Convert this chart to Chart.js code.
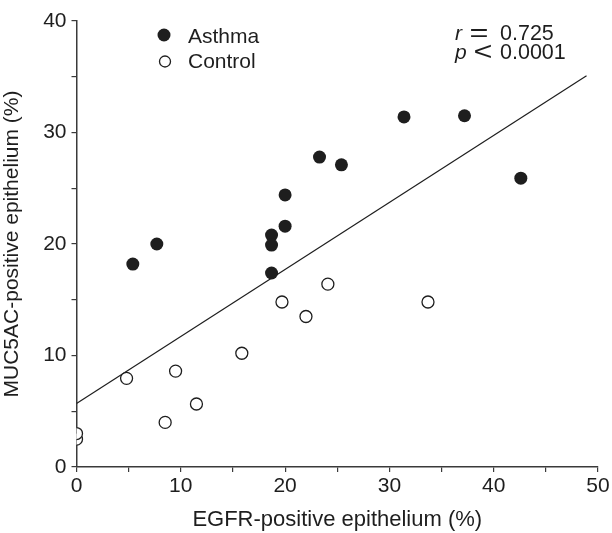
<!DOCTYPE html>
<html><head><meta charset="utf-8">
<script src="https://cdn.jsdelivr.net/npm/chart.js@4.4.0/dist/chart.umd.min.js"></script>
<style>html,body{margin:0;padding:0;background:#fff}#wrap{width:612px;height:533px}</style>
</head><body><div id="wrap"><canvas id="c" width="612" height="533"></canvas></div>
<script>
const asthmaX = [5.4, 7.7, 18.7, 18.7, 18.7, 20.0, 20.0, 23.3, 25.4, 31.4, 37.2, 42.6];
const asthmaY = [18.2, 20.0, 20.8, 19.9, 17.4, 24.4, 21.6, 27.8, 27.1, 31.4, 31.5, 25.9];
const controlX = [0, 0, 4.8, 8.5, 9.5, 11.5, 15.85, 19.7, 22.0, 24.1, 33.7];
const controlY = [2.5, 3.0, 7.95, 4.0, 8.6, 5.65, 10.2, 14.8, 13.5, 16.4, 14.8];
const fitX = [0, 48.9];
const fitY = [5.7, 35.1];
const xTickLabels = ['0', '10', '20', '30', '40', '50'];
const yTickLabels = ['0', '10', '20', '30', '40'];
const seriesNames = ['Asthma', 'Control'];
const statVars = ['r', 'p'];
const statOps = ['=', '<'];
const statVals = ['0.725', '0.0001'];

const FONT = "'Liberation Sans', Arial, Helvetica, sans-serif";
const INK = '#1e1e1e';
const AXIS = '#3a3a3a';

const toPts = (xs, ys) => xs.map((x, i) => ({x: x, y: ys[i]}));

const overlay = {
  id: 'overlay',
  afterDraw(chart) {
    const ctx = chart.ctx;
    ctx.save();
    // legend
    ctx.fillStyle = INK;
    ctx.beginPath(); ctx.arc(164, 35, 6.5, 0, Math.PI * 2); ctx.fill();
    ctx.fillStyle = '#fff'; ctx.strokeStyle = INK; ctx.lineWidth = 1.3;
    ctx.beginPath(); ctx.arc(165, 61.5, 5.5, 0, Math.PI * 2); ctx.fill(); ctx.stroke();
    ctx.fillStyle = INK;
    ctx.font = '21px ' + FONT;
    ctx.textBaseline = 'alphabetic';
    ctx.textAlign = 'left';
    ctx.fillText(seriesNames[0], 188, 43);
    ctx.fillText(seriesNames[1], 188, 68);
    // stats
    const drawStat = (i, y) => {
      ctx.font = 'italic 21px ' + FONT;
      ctx.fillText(statVars[i], 455, y);
      ctx.save();
      ctx.translate(i === 0 ? 479 : 483, y + 1);
      ctx.scale(1.3, 1);
      ctx.font = '25px ' + FONT;
      ctx.textAlign = 'center';
      ctx.fillText(statOps[i], 0, 0);
      ctx.restore();
      ctx.font = '21.5px ' + FONT;
      ctx.fillText(statVals[i], 500, y);
    };
    drawStat(0, 40);
    drawStat(1, 59);
    ctx.restore();
  }
};

new Chart(document.getElementById('c'), {
  type: 'scatter',
  data: {
    datasets: [
      {
        label: 'fit', type: 'line', data: toPts(fitX, fitY),
        borderColor: INK, borderWidth: 1.2, pointRadius: 0, fill: false, order: 3
      },
      {
        label: seriesNames[1], data: toPts(controlX, controlY),
        pointRadius: 6, pointBackgroundColor: '#fff', pointBorderColor: INK,
        pointBorderWidth: 1.3, order: 2
      },
      {
        label: seriesNames[0], data: toPts(asthmaX, asthmaY),
        pointRadius: 6.5, pointBackgroundColor: INK, pointBorderColor: INK,
        pointBorderWidth: 0, order: 1
      }
    ]
  },
  options: {
    responsive: false,
    devicePixelRatio: 1,
    animation: false,
    layout: {padding: {top: 21, right: 14, left: 0, bottom: 0}},
    plugins: {legend: {display: false}, tooltip: {enabled: false}},
    scales: {
      x: {
        type: 'linear', min: 0, max: 50,
        afterFit(s) { s.height = 66; },
        grid: {display: true, drawOnChartArea: false, drawTicks: true, tickLength: 5, color: AXIS, lineWidth: 1.2},
        border: {display: true, color: AXIS, width: 1.5},
        ticks: {
          stepSize: 5, autoSkip: false, maxRotation: 0, padding: 2,
          color: INK, font: {family: FONT, size: 21},
          callback: (v) => (v % 10 === 0 ? xTickLabels[v / 10] : '')
        },
        title: {display: true, text: 'EGFR-positive epithelium (%)', color: INK,
          font: {family: FONT, size: 22}, padding: {top: 4, bottom: 0}}
      },
      y: {
        type: 'linear', min: 0, max: 40,
        afterFit(s) { s.width = 76.5; },
        grid: {display: true, drawOnChartArea: false, drawTicks: true, tickLength: 5, color: AXIS, lineWidth: 1.2},
        border: {display: true, color: AXIS, width: 1.5},
        ticks: {
          stepSize: 5, autoSkip: false, padding: 5,
          color: INK, font: {family: FONT, size: 21},
          callback: (v) => (v % 10 === 0 ? yTickLabels[v / 10] : '')
        },
        title: {display: true, text: 'MUC5AC-positive epithelium (%)', color: INK,
          font: {family: FONT, size: 21}, padding: {top: 0, bottom: 5}}
      }
    }
  },
  plugins: [overlay]
});
</script>
</body></html>
